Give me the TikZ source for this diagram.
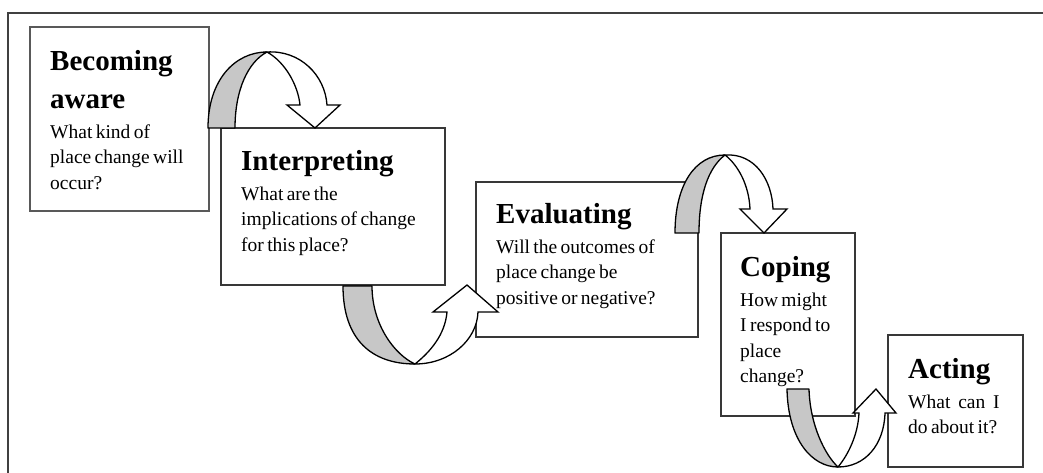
\documentclass[tikz,border=0pt]{standalone}
\usepackage{fontspec}
\setmainfont{Liberation Serif}
\setlength{\parindent}{0pt}
\newcommand{\headfont}{\fontsize{29}{38}\selectfont\bfseries}
\newcommand{\bodyfont}{\fontsize{19.5}{25.5}\selectfont}
% heading (first baseline 25pt below the node top), then the question
\newcommand{\stagetext}[2]{{\headfont\rule{0pt}{25pt}#1\par}\vskip4.5pt{\bodyfont #2\par}}

\begin{document}
\begin{tikzpicture}[x=1pt,y=-1pt,
  stagebox/.style={draw=black!78, line width=2pt, fill=white, rectangle,
    inner sep=0pt, outer sep=0pt, anchor=north west},
  stagetxt/.style={anchor=north west, inner sep=0pt, text width=220pt, align=left},
  backface/.style={fill=black!22, draw=black, line width=1.3pt, line join=round},
  frontface/.style={fill=white, draw=black, line width=1.3pt, line join=miter},
  borderline/.style={draw=black!75, line width=2.5pt}]

\useasboundingbox (0,0) rectangle (1043,473);
\draw[borderline] (8,475) -- (8,13) -- (1045,13);

% stage boxes
\node[stagebox, minimum width=179pt, minimum height=184pt, line width=2.6pt, draw=black!65] (aware) at (30,27) {};
\node[stagebox, minimum width=224pt, minimum height=157pt] (interp) at (221,128) {};
\node[stagebox, minimum width=222pt, minimum height=155pt] (eval) at (476,182) {};
\node[stagebox, minimum width=134pt, minimum height=183pt] (coping) at (721,233) {};
\node[stagebox, minimum width=135pt, minimum height=132pt] (acting) at (888,335) {};

% stage texts
\node[stagetxt] (awaretxt) at (50,45)
  {\stagetext{Becoming\\aware}{What kind of\\place change will\\occur?}};
\node[stagetxt] (interptxt) at (241,145)
  {\stagetext{Interpreting}{What are the\\implications of change\\for this place?}};
\node[stagetxt] (evaltxt) at (496,198)
  {\stagetext{Evaluating}{Will the outcomes of\\place change be\\positive or negative?}};
\node[stagetxt] (copingtxt) at (740,251)
  {\stagetext{Coping}{How might\\I respond to\\place\\change?}};
\node[stagetxt] (actingtxt) at (908,353)
  {\stagetext{Acting}{What\hspace{4.5pt} can\hspace{4.5pt} I\\do about it?}};

% curved arrow: Becoming aware -> Interpreting
\draw[backface] (208,128) .. controls (208,80) and (235,52) .. (267,52)
  .. controls (248,62) and (235,90) .. (235,128) -- cycle;
\draw[frontface] (267,52) .. controls (300,50) and (325,75) .. (327,105)
  -- (340,105) -- (315,128) -- (287,105) -- (300,105)
  .. controls (298,85) and (285,62) .. (267,52) -- cycle;

% curved arrow: Interpreting -> Evaluating
\draw[backface] (343,286) .. controls (343,340) and (372,364) .. (415,364)
  .. controls (395,355) and (372,325) .. (372,286) -- cycle;
\draw[frontface] (415,364) .. controls (450,364) and (477,340) .. (478,312)
  -- (498,312) -- (467,285) -- (433,312) -- (447,312)
  .. controls (445,335) and (430,352) .. (415,364) -- cycle;

% curved arrow: Evaluating -> Coping
\draw[backface] (675,233) .. controls (675,185) and (695,155) .. (725,155)
  .. controls (708,168) and (699,195) .. (699,233) -- cycle;
\draw[frontface] (725,155) .. controls (755,153) and (772,180) .. (773,209)
  -- (787,209) -- (764,233) -- (740,209) -- (750,209)
  .. controls (749,185) and (738,165) .. (725,155) -- cycle;

% curved arrow: Coping -> Acting
\draw[backface] (787,389) .. controls (788,440) and (812,467) .. (838,467)
  .. controls (825,455) and (810,425) .. (809,389) -- cycle;
\draw[frontface] (838,467) .. controls (865,467) and (884,445) .. (885,413)
  -- (896,413) -- (876,389) -- (853,413) -- (859,413)
  .. controls (858,435) and (848,455) .. (838,467) -- cycle;

\end{tikzpicture}
\end{document}
